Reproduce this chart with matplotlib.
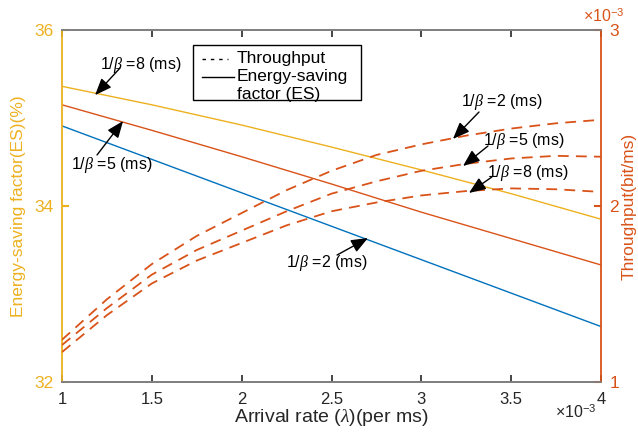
import matplotlib
matplotlib.use("Agg")
import matplotlib.pyplot as plt
from matplotlib.lines import Line2D
from matplotlib.patches import Rectangle

plt.rcParams['font.family'] = ['Liberation Sans', 'DejaVu Sans']
plt.rcParams['mathtext.fontset'] = 'custom'
plt.rcParams['mathtext.it'] = 'Liberation Serif:italic'
plt.rcParams['mathtext.rm'] = 'Liberation Sans'

# ---- data ----
x_tp = [1, 1.25, 1.5, 1.75, 2, 2.25, 2.5, 2.75, 3, 3.25, 3.5, 3.75, 4]
tp_beta2 = [1.24, 1.47, 1.67, 1.83, 1.96, 2.09, 2.20, 2.29, 2.35, 2.40, 2.44, 2.47, 2.49]
tp_beta5 = [1.21, 1.42, 1.61, 1.75, 1.86, 1.97, 2.07, 2.14, 2.20, 2.24, 2.27, 2.285, 2.28]
tp_beta8 = [1.17, 1.38, 1.56, 1.69, 1.79, 1.89, 1.97, 2.02, 2.06, 2.085, 2.10, 2.095, 2.08]

x_es = [1, 1.5, 2, 2.5, 3, 3.5, 4]
es_beta8 = [35.36, 35.15, 34.92, 34.67, 34.41, 34.14, 33.85]
es_beta5 = [35.15, 34.86, 34.56, 34.25, 33.93, 33.63, 33.33]
es_beta2 = [34.91, 34.53, 34.15, 33.77, 33.39, 33.01, 32.63]

xticks = [1, 1.5, 2, 2.5, 3, 3.5, 4]
xticklabels = ['1', '1.5', '2', '2.5', '3', '3.5', '4']
yticks_left = [32, 34, 36]
yticks_right = [1, 2, 3]
legend_labels = ['Throughput', 'Energy-saving', 'factor (ES)']
beta_labels = ['1/$\\it{\\beta}$ =2 (ms)', '1/$\\it{\\beta}$ =5 (ms)', '1/$\\it{\\beta}$ =8 (ms)']

BLUE = '#0072BD'
RED = '#D95319'
YEL = '#EDB120'
GRAY = '#808080'
TXT = '#262626'

W, H = 638, 432
fig = plt.figure(figsize=(W/100, H/100), dpi=100)
ax = fig.add_axes([62/W, 50/H, 539/W, 352/H])
ax2 = ax.twinx()

ax.plot(x_es, es_beta2, color=BLUE, lw=1.0)
ax.plot(x_es, es_beta5, color=RED, lw=1.0)
ax.plot(x_es, es_beta8, color=YEL, lw=1.0)

for s in (tp_beta2, tp_beta5, tp_beta8):
    ax2.plot(x_tp, s, color=RED, lw=1.3, dashes=(6, 4))

ax.set_xlim(1, 4)
ax.set_ylim(32, 36)
ax2.set_ylim(1, 3)
ax.set_xticks(xticks)
ax.set_xticklabels(xticklabels, fontsize=12, color=TXT)
ax.set_yticks(yticks_left)
ax.set_yticklabels([str(v) for v in yticks_left], fontsize=12.5, color=YEL)
ax2.set_yticks(yticks_right)
ax2.set_yticklabels([str(v) for v in yticks_right], fontsize=12.5, color=RED)

ax.tick_params(axis='x', direction='in', length=5, width=1.2, color=TXT, top=True, pad=7)
ax.tick_params(axis='y', direction='in', length=5, width=1.5, color=YEL, pad=6)
ax2.tick_params(axis='y', direction='in', length=5, width=1.5, color=RED, pad=6)

for a in (ax, ax2):
    a.spines['top'].set_color(GRAY)
    a.spines['bottom'].set_color(GRAY)
    a.spines['top'].set_linewidth(1.3)
    a.spines['bottom'].set_linewidth(1.3)
ax.spines['left'].set_color(YEL)
ax.spines['left'].set_linewidth(1.3)
ax2.spines['left'].set_visible(False)
ax.spines['right'].set_visible(False)
ax2.spines['right'].set_color(RED)
ax2.spines['right'].set_linewidth(1.3)

ax.set_xlabel('Arrival rate ($\\lambda$)(per ms)', fontsize=14, color=TXT, labelpad=0)
ax.set_ylabel('Energy-saving factor(ES)(%)', fontsize=12.5, color=YEL, labelpad=6)
ax2.set_ylabel('Throughput(bit/ms)', fontsize=12.5, color=RED, labelpad=2)

fig.text(576/W, 1 - 418/H, '$\\times$10$^{-3}$', fontsize=11.5, color=TXT, ha='center', va='baseline')
fig.text(604/W, 1 - 22/H, '$\\times$10$^{-3}$', fontsize=11.5, color=RED, ha='center', va='baseline')

# manual legend box (figure pixel coordinates)
def fx(px):
    return px / W

def fy(py):
    return 1 - py / H

fig.patches.append(Rectangle((fx(193), fy(100)), fx(361) - fx(193), fy(45) - fy(100),
                             transform=fig.transFigure, facecolor='white',
                             edgecolor='black', lw=1.0, zorder=5))
fig.lines.append(Line2D([fx(202), fx(228)], [fy(59), fy(59)], transform=fig.transFigure,
                        color='black', lw=1.0, dashes=(2.5, 3.5), zorder=6))
fig.lines.append(Line2D([fx(202), fx(234)], [fy(77), fy(77)], transform=fig.transFigure,
                        color='black', lw=1.0, zorder=6))
for lab, py in zip(legend_labels, (59, 77, 94)):
    fig.text(fx(237), fy(py), lab, fontsize=12.5, color='black', ha='left', va='center', zorder=7)

arrow = dict(arrowstyle='-|>,head_length=0.85,head_width=0.34', color='black', lw=1.0,
             shrinkA=0, shrinkB=0, mutation_scale=12)
fs = 11.5

def note(a, label, text_xy, tail, tip):
    a.text(text_xy[0], text_xy[1], label, ha='center', va='center', fontsize=fs, zorder=8)
    a.annotate('', xy=tip, xytext=tail, arrowprops=arrow, zorder=9)

note(ax, beta_labels[2], (1.44, 35.60), (1.323, 35.568), (1.184, 35.26))
note(ax, beta_labels[1], (1.278, 34.47), (1.195, 34.58), (1.34, 34.966))
note(ax, beta_labels[0], (2.475, 33.35), (2.531, 33.443), (2.703, 33.636))
note(ax2, beta_labels[0], (3.449, 2.59), (3.321, 2.534), (3.176, 2.381))
note(ax2, beta_labels[1], (3.571, 2.369), (3.371, 2.341), (3.232, 2.227))
note(ax2, beta_labels[2], (3.594, 2.1875), (3.393, 2.165), (3.265, 2.074))

fig.savefig('out.png', dpi=100)
